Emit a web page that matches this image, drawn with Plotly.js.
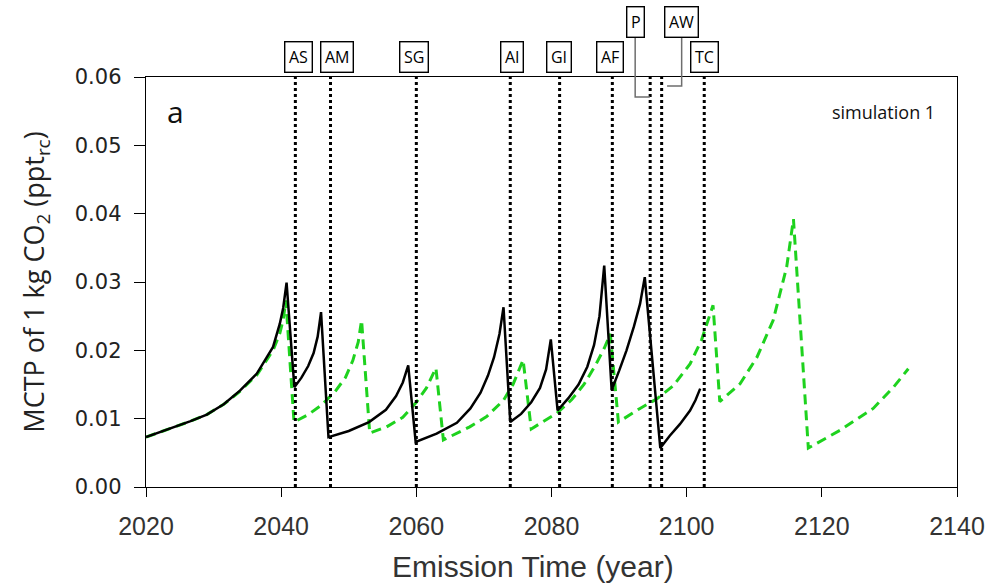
<!DOCTYPE html>
<html>
<head>
<meta charset="utf-8">
<script src="https://cdn.plot.ly/plotly-3.0.1.min.js"></script>
<style>html,body{margin:0;padding:0;background:#fff;}#chart{width:990px;height:584px;}</style>
</head>
<body>
<div id="chart"></div>
<script>
// Simulation (black solid)
var blackYear = [2020, 2022, 2024, 2026.5, 2029, 2031.5, 2033.9, 2036.4, 2038.8, 2039.8, 2040.3, 2040.8,
  2041.95, 2043, 2044, 2044.8, 2045.4, 2045.9,
  2047.0, 2050, 2053, 2055.5, 2057, 2058, 2058.8,
  2059.9, 2063, 2066, 2068, 2069.5, 2070.6, 2071.5, 2072.3, 2072.9,
  2073.9, 2075.5, 2077, 2078.3, 2079.2, 2079.9,
  2080.9, 2082.5, 2084, 2085.3, 2086.3, 2087.1, 2087.8,
  2088.9, 2090, 2091.1, 2092.2, 2093.1, 2093.8,
  2096.1, 2097.5, 2099, 2100.5, 2101.3, 2102];
var blackValue = [0.0073, 0.0080, 0.0087, 0.0096, 0.0106, 0.0121, 0.0141, 0.0166, 0.0205, 0.0239, 0.0262, 0.0299,
  0.0146, 0.0160, 0.0177, 0.0196, 0.0220, 0.0256,
  0.0073, 0.0082, 0.0095, 0.0113, 0.0133, 0.0153, 0.0178,
  0.0066, 0.0078, 0.0094, 0.0115, 0.0138, 0.0163, 0.0190, 0.0224, 0.0263,
  0.0095, 0.0107, 0.0124, 0.0145, 0.0172, 0.0216,
  0.0112, 0.0130, 0.0150, 0.0176, 0.0208, 0.0250, 0.0324,
  0.0142, 0.0170, 0.0200, 0.0235, 0.0268, 0.0307,
  0.0057, 0.0075, 0.0092, 0.0112, 0.0127, 0.0144];

// Comparison (green dashed)
var greenYear = [2020, 2022, 2024, 2026.5, 2029, 2031.5, 2033.9, 2036.4, 2038.8, 2039.8, 2040.3, 2040.7,
  2041.9, 2044, 2046, 2048, 2049.5, 2050.6, 2051.4, 2051.9,
  2053.1, 2055.6, 2058, 2060, 2061.5, 2062.9,
  2064, 2067.9, 2070.4, 2072.9, 2074.3, 2075.1, 2075.8,
  2077.0, 2080.8, 2083, 2084.8, 2086.5, 2087.8, 2088.7,
  2089.9, 2093.1, 2095.6, 2098, 2100.5, 2102.2, 2103.9,
  2104.9, 2107.9, 2110.4, 2112.8, 2114.8, 2115.8,
  2118, 2122.7, 2127.6, 2130.6, 2132.8];
var greenValue = [0.0073, 0.0080, 0.0087, 0.0096, 0.0106, 0.0121, 0.0140, 0.0164, 0.0200, 0.0225, 0.0245, 0.0273,
  0.0095, 0.0106, 0.0120, 0.0140, 0.0160, 0.0185, 0.0212, 0.0244,
  0.0079, 0.0088, 0.0102, 0.0124, 0.0145, 0.0174,
  0.0069, 0.0088, 0.0103, 0.0127, 0.0150, 0.0168, 0.0186,
  0.0085, 0.0108, 0.0128, 0.0150, 0.0178, 0.0203, 0.0224,
  0.0095, 0.0115, 0.0129, 0.0148, 0.0180, 0.0215, 0.0266,
  0.0125, 0.0151, 0.0190, 0.0244, 0.0322, 0.0392,
  0.0057, 0.0083, 0.0115, 0.0146, 0.0173];

// Events (dotted vertical lines with labels)
var eventLabels = ["AS", "AM", "SG", "AI", "GI", "AF", "P", "AW", "TC"];
var eventYears = [2042.1, 2047.3, 2060.0, 2073.9, 2081.2, 2089.0, 2094.6, 2096.3, 2102.6];

var xTicks = [2020, 2040, 2060, 2080, 2100, 2120, 2140];
var yTicks = [0, 0.01, 0.02, 0.03, 0.04, 0.05, 0.06];

var traces = [
  {x: greenYear, y: greenValue, type: 'scatter', mode: 'lines',
   line: {color: '#1ed21e', width: 3, dash: '10px,6px'}, hoverinfo: 'skip'},
  {x: blackYear, y: blackValue, type: 'scatter', mode: 'lines',
   line: {color: '#000000', width: 2.5}, hoverinfo: 'skip'}
];

var shapes = [];
var annotations = [];
// per-label pixel offsets of the boxes relative to their line, and rows
var boxShift = {AS: 3, AM: 6, SG: -2, AI: 2, GI: -1, AF: -2, P: -15, AW: 20, TC: 0};
var upperRow = {P: true, AW: true};
var pxPerYear = 811 / 120;

eventLabels.forEach(function (lab, i) {
  var yr = eventYears[i];
  shapes.push({type: 'line', xref: 'x', yref: 'paper', x0: yr, x1: yr, y0: 0, y1: 1,
    line: {color: '#000', width: 3, dash: 'dot'}, layer: 'above'});
  var upper = !!upperRow[lab];
  annotations.push({
    x: yr, xref: 'x', y: upper ? 1.134 : 1.049, yref: 'paper',
    xshift: boxShift[lab], text: lab, showarrow: false,
    xanchor: 'center', yanchor: 'middle',
    font: {family: 'Open Sans, DejaVu Sans, sans-serif', size: 16, color: '#000'},
    bordercolor: '#000', borderwidth: 1.4, borderpad: 3.5, bgcolor: '#fff'
  });
  if (upper) {
    var bx = yr + boxShift[lab] / pxPerYear;
    var yTopBox = (487 - 37) / 410;
    var yBend = lab === 'P' ? (487 - 97) / 410 : (487 - 86) / 410;
    var xEnd = lab === 'P' ? yr - 0.05 : yr + 0.8;
    shapes.push({type: 'path', xref: 'x', yref: 'paper',
      path: 'M ' + bx + ',' + yTopBox + ' L ' + bx + ',' + yBend + ' L ' + xEnd + ',' + yBend,
      line: {color: '#6e6e6e', width: 1.5}, layer: 'above'});
  }
});

annotations.push({x: 0.036, y: 0.915, xref: 'paper', yref: 'paper', text: 'a', showarrow: false,
  xanchor: 'center', yanchor: 'middle', font: {family: 'Open Sans, sans-serif', size: 30, color: '#111'}});
annotations.push({x: 0.975, y: 0.915, xref: 'paper', yref: 'paper', text: 'simulation 1', showarrow: false,
  xanchor: 'right', yanchor: 'middle', font: {family: 'Open Sans, sans-serif', size: 18, color: '#111'}});
annotations.push({x: 0.477, y: (487 - 566) / 410, xref: 'paper', yref: 'paper', text: 'Emission Time (year)',
  showarrow: false, xanchor: 'center', yanchor: 'middle',
  font: {family: 'Liberation Sans, Arial, sans-serif', size: 30, color: '#333'}});

var layout = {
  width: 990, height: 584,
  margin: {l: 146, r: 33, t: 77, b: 97, pad: 0},
  paper_bgcolor: '#fff', plot_bgcolor: '#fff',
  showlegend: false,
  xaxis: {
    range: [2020, 2140], tickvals: xTicks, ticktext: xTicks.map(String),
    ticks: 'outside', ticklen: 9, tickwidth: 1, tickcolor: '#000',
    showline: true, linecolor: '#000', linewidth: 1.3, mirror: true,
    showgrid: false, zeroline: false, ticklabelstandoff: 8,
    tickfont: {family: 'Liberation Sans, Arial, sans-serif', size: 25, color: '#333'}
  },
  yaxis: {
    range: [0, 0.06], tickvals: yTicks, ticktext: yTicks.map(function (v) { return v.toFixed(2); }),
    ticks: 'outside', ticklen: 11, tickwidth: 1, tickcolor: '#000',
    showline: true, linecolor: '#000', linewidth: 1.3, mirror: true,
    showgrid: false, zeroline: false, ticklabelstandoff: 8,
    tickfont: {family: 'DejaVu Sans, sans-serif', size: 21, color: '#222'},
    title: {text: 'MCTP of 1 kg CO<sub>2</sub> (ppt<sub>rc</sub>)', standoff: 22,
      font: {family: 'Open Sans, sans-serif', size: 27, color: '#222'}}
  },
  shapes: shapes,
  annotations: annotations
};

Plotly.newPlot('chart', traces, layout, {staticPlot: true, displayModeBar: false});
</script>
</body>
</html>
